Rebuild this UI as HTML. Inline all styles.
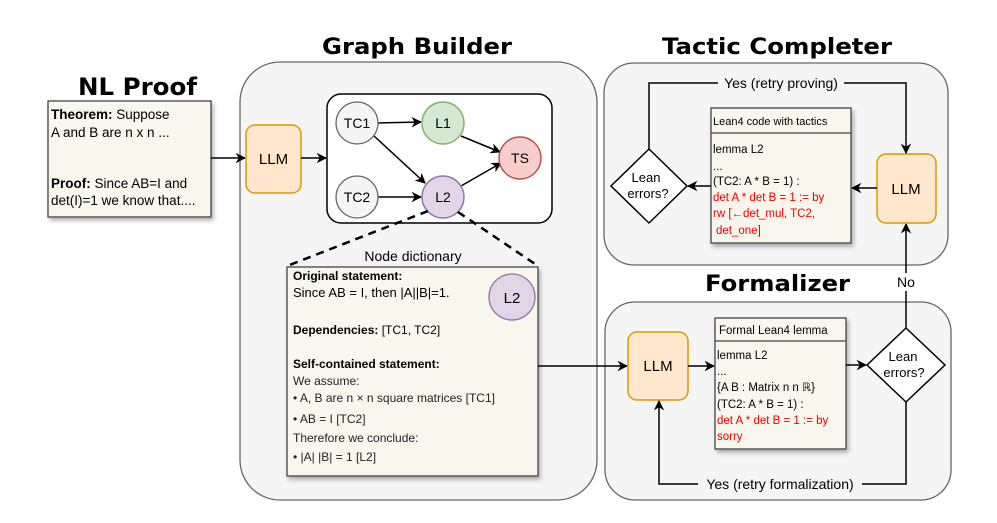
<!DOCTYPE html>
<html><head><meta charset="utf-8"><style>body{margin:0;background:#fff}svg{display:block}text{font-family:"Liberation Sans",sans-serif}</style></head><body>
<svg width="997" height="523" viewBox="0 0 997 523" xmlns="http://www.w3.org/2000/svg">
<defs>
<marker id="a" viewBox="0 0 10 10" refX="9" refY="5" markerWidth="7" markerHeight="7" orient="auto"><path d="M0,0 L10,5 L0,10 L3,5 z" fill="#000"/></marker>
<filter id="sh" x="-5%" y="-5%" width="115%" height="115%"><feDropShadow dx="2" dy="3" stdDeviation="2" flood-opacity="0.3"/></filter>
</defs>
<rect x="240" y="62" width="357" height="438" rx="40" fill="#f5f5f5" stroke="#666" stroke-width="1.3"/>
<rect x="604" y="63" width="344" height="202" rx="30" fill="#f5f5f5" stroke="#666" stroke-width="1.3"/>
<rect x="605" y="302" width="346" height="198" rx="30" fill="#f5f5f5" stroke="#666" stroke-width="1.3"/>
<g font-weight="bold" style="font-family:'DejaVu Sans',sans-serif">
<text x="78" y="95" font-size="24" textLength="119" lengthAdjust="spacingAndGlyphs" style="font-family:'DejaVu Sans',sans-serif">NL Proof</text>
<text x="322" y="54" font-size="22" textLength="190" lengthAdjust="spacingAndGlyphs" style="font-family:'DejaVu Sans',sans-serif">Graph Builder</text>
<text x="662" y="54" font-size="22" textLength="230" lengthAdjust="spacingAndGlyphs" style="font-family:'DejaVu Sans',sans-serif">Tactic Completer</text>
<text x="705" y="291" font-size="22" textLength="145" lengthAdjust="spacingAndGlyphs" style="font-family:'DejaVu Sans',sans-serif">Formalizer</text>
</g>
<rect x="48" y="101" width="163" height="116" fill="#f9f7ed" stroke="#444" stroke-width="1.3" filter="url(#sh)"/>
<g font-size="13.5">
<text x="51" y="119"><tspan font-weight="bold">Theorem:</tspan> Suppose</text>
<text x="51" y="137">A and B are n x n ...</text>
<text x="51" y="188"><tspan font-weight="bold">Proof:</tspan> Since AB=I and</text>
<text x="51" y="205">det(I)=1 we know that....</text>
</g>
<line x1="211" y1="158" x2="245" y2="158" stroke="#000" stroke-width="1.5" marker-end="url(#a)"/>
<rect x="246" y="125" width="55" height="68" rx="9" fill="#ffe6cc" stroke="#d79b00" stroke-width="1.5"/>
<text x="273.5" y="164" font-size="15" text-anchor="middle">LLM</text>
<line x1="301" y1="158" x2="326" y2="158" stroke="#000" stroke-width="1.5" marker-end="url(#a)"/>
<rect x="327" y="94" width="225" height="129" rx="14" fill="#fff" stroke="#000" stroke-width="1.5"/>
<g stroke="#000" stroke-width="1.5" marker-end="url(#a)">
<line x1="378" y1="123" x2="421" y2="122"/>
<line x1="374" y1="136" x2="425" y2="183"/>
<line x1="378" y1="197" x2="421" y2="197"/>
<line x1="461" y1="136" x2="500" y2="152"/>
<line x1="461" y1="186" x2="501" y2="163"/>
</g>
<g font-size="14" text-anchor="middle">
<circle cx="357" cy="123" r="21" fill="#f5f5f5" stroke="#666" stroke-width="1.3"/><text x="357" y="128">TC1</text>
<circle cx="357" cy="197" r="21" fill="#f5f5f5" stroke="#666" stroke-width="1.3"/><text x="357" y="202">TC2</text>
<circle cx="443" cy="123" r="21" fill="#d5e8d4" stroke="#82b366" stroke-width="1.5"/><text x="443" y="128">L1</text>
<circle cx="443" cy="197" r="21" fill="#e1d5e7" stroke="#9673a6" stroke-width="1.5"/><text x="443" y="202">L2</text>
<circle cx="520" cy="158" r="21" fill="#f8cecc" stroke="#b85450" stroke-width="1.5"/><text x="520" y="163">TS</text>
</g>
<line x1="428" y1="211" x2="287" y2="266" stroke="#000" stroke-width="2.5" stroke-dasharray="8,6"/>
<line x1="458" y1="212" x2="538" y2="266" stroke="#000" stroke-width="2.5" stroke-dasharray="8,6"/>
<text x="413" y="261" font-size="14" text-anchor="middle">Node dictionary</text>
<rect x="287" y="267" width="251" height="209" fill="#f9f7ed" stroke="#444" stroke-width="1.3" filter="url(#sh)"/>
<circle cx="512" cy="297" r="23" fill="#e1d5e7" stroke="#9673a6" stroke-width="1.3"/>
<text x="512" y="303" font-size="15" text-anchor="middle">L2</text>
<g font-size="12">
<text x="293" y="280" font-weight="bold">Original statement:</text>
<text x="293" y="297" font-size="13">Since AB = I, then |A||B|=1.</text>
<text x="293" y="334"><tspan font-weight="bold">Dependencies:</tspan> [TC1, TC2]</text>
<text x="293" y="368" font-weight="bold">Self-contained statement:</text>
<text x="293" y="385" fill="#222">We assume:</text>
<text x="293" y="402" fill="#222">• A, B are n × n square matrices [TC1]</text>
<text x="293" y="423" fill="#222">• AB = I  [TC2]</text>
<text x="293" y="442" fill="#222">Therefore we conclude:</text>
<text x="293" y="461" fill="#222">• |A| |B| = 1 [L2]</text>
</g>
<line x1="538" y1="366" x2="627" y2="366" stroke="#000" stroke-width="1.5" marker-end="url(#a)"/>
<rect x="628" y="332" width="60" height="68" rx="9" fill="#ffe6cc" stroke="#d79b00" stroke-width="1.5"/>
<text x="658" y="371" font-size="15" text-anchor="middle">LLM</text>
<line x1="688" y1="366" x2="714" y2="366" stroke="#000" stroke-width="1.5" marker-end="url(#a)"/>
<rect x="715" y="318" width="131" height="131" fill="#f9f7ed" stroke="#444" stroke-width="1.3" filter="url(#sh)"/>
<line x1="715" y1="341" x2="846" y2="341" stroke="#444" stroke-width="1.3"/>
<g font-size="11.5">
<text x="719" y="334">Formal Lean4 lemma</text>
<text x="717" y="359">lemma L2</text>
<text x="717" y="375">...</text>
<text x="717" y="391">{A B : Matrix n n ℝ}</text>
<text x="717" y="408">(TC2: A * B = 1) :</text>
<text x="717" y="424" fill="#e00">det A * det B = 1 := by</text>
<text x="717" y="440" fill="#e00">sorry</text>
</g>
<line x1="846" y1="365" x2="866" y2="365" stroke="#000" stroke-width="1.5" marker-end="url(#a)"/>
<polygon points="906,328 945,365 906,402 867,365" fill="#fff" stroke="#000" stroke-width="1.5"/>
<text x="903" y="361" font-size="13" text-anchor="middle">Lean</text>
<text x="904" y="377" font-size="13" text-anchor="middle">errors?</text>
<polyline points="906,402 906,484 659,484 659,401" fill="none" stroke="#000" stroke-width="1.5" marker-end="url(#a)"/>
<rect x="698" y="475" width="164" height="18" fill="#f5f5f5"/>
<text x="780" y="489" font-size="14" text-anchor="middle">Yes (retry formalization)</text>
<line x1="906" y1="328" x2="906" y2="224" stroke="#000" stroke-width="1.5" marker-end="url(#a)"/>
<rect x="895" y="273" width="24" height="18" fill="#fff"/>
<text x="906" y="287" font-size="14" text-anchor="middle">No</text>
<rect x="877" y="154" width="59" height="69" rx="9" fill="#ffe6cc" stroke="#d79b00" stroke-width="1.5"/>
<text x="906" y="194" font-size="15" text-anchor="middle">LLM</text>
<line x1="877" y1="188" x2="852" y2="188" stroke="#000" stroke-width="1.5" marker-end="url(#a)"/>
<rect x="711" y="108" width="140" height="135" fill="#f9f7ed" stroke="#444" stroke-width="1.3" filter="url(#sh)"/>
<line x1="711" y1="133" x2="851" y2="133" stroke="#444" stroke-width="1.3"/>
<g font-size="11.5">
<text x="713" y="125" font-size="11">Lean4 code with tactics</text>
<text x="713" y="153">lemma L2</text>
<text x="713" y="170">...</text>
<text x="713" y="185">(TC2: A * B = 1) :</text>
<text x="713" y="201" fill="#e00">det A * det B = 1 := by</text>
<text x="713" y="217" fill="#e00">rw [←det_mul, TC2,</text>
<text x="716" y="234" fill="#e00">det_one]</text>
</g>
<line x1="711" y1="186" x2="688" y2="186" stroke="#000" stroke-width="1.5" marker-end="url(#a)"/>
<polygon points="649,149 687,186 649,223 611,186" fill="#fff" stroke="#000" stroke-width="1.5"/>
<text x="646" y="182" font-size="13" text-anchor="middle">Lean</text>
<text x="648" y="198" font-size="13" text-anchor="middle">errors?</text>
<polyline points="649,149 649,83 906,83 906,153" fill="none" stroke="#000" stroke-width="1.5" marker-end="url(#a)"/>
<rect x="718" y="74" width="126" height="18" fill="#f5f5f5"/>
<text x="781" y="88" font-size="14" text-anchor="middle">Yes (retry proving)</text>
</svg>
</body></html>
